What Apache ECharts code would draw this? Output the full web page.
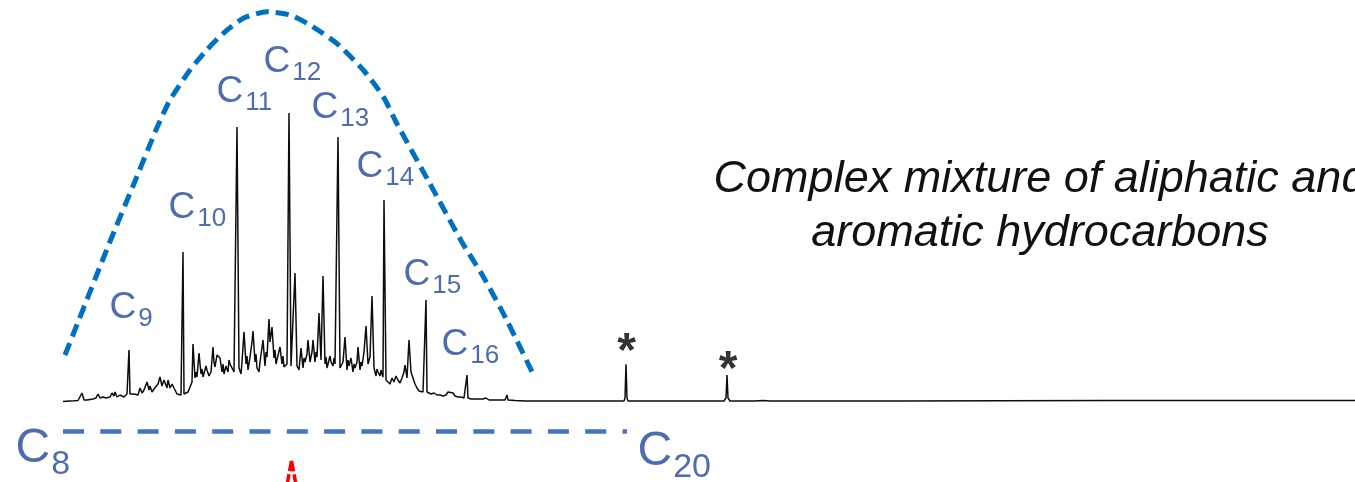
<!DOCTYPE html>
<html>
<head>
<meta charset="utf-8">
<title>GC-FID chromatogram</title>
<script src="https://cdn.jsdelivr.net/npm/echarts@6/dist/echarts.min.js"></script>
<style>
  html, body { margin: 0; padding: 0; background: #fff; }
  #main { width: 1355px; height: 482px; }
</style>
</head>
<body>
<div id="main"></div>
<script>
// detector trace: [scan, response]
const trace = [
  [63, 0.5], [66, 0.8], [70, 1], [74, 1.2], [78, 1.5], [80, 2], [82, 9], [84, 2], [87, 2], [90, 2.5],
  [93, 3], [96, 4], [98, 8], [100, 4], [103, 5], [106, 4], [108, 6], [110, 5], [112, 9], [114, 6],
  [115, 10], [117, 5], [119, 6], [120, 7], [122, 9], [124, 5], [126, 6], [127, 8],
  // C9
  [128, 7], [129, 52], [130, 8],
  [132, 6], [134, 8], [136, 10], [138, 7], [140, 14], [142, 9], [144, 12], [146, 10], [147, 20], [149, 12],
  [150, 16], [152, 10], [154, 13], [156, 11], [158, 18], [160, 25], [162, 16], [164, 22], [165, 20], [167, 14],
  [168, 22], [170, 14], [172, 18], [173, 20], [175, 12], [177, 8], [179, 10], [181, 7],
  // C10
  [182, 8], [183, 150], [184, 8],
  [186, 7], [188, 10], [190, 12], [192, 20], [193, 58], [195, 24], [196, 30], [197, 25], [199, 49], [201, 28],
  [202, 33], [203, 25], [205, 27], [206, 36], [207, 32], [209, 26], [211, 30], [213, 55], [214, 40], [215, 35],
  [217, 47], [219, 49], [220, 44], [222, 30], [223, 38], [224, 28], [226, 36], [228, 30], [229, 42], [230, 38],
  [232, 34], [234, 30],
  // C11
  [235, 32], [237, 275], [239, 34],
  [241, 28], [242, 40], [244, 70], [246, 38], [247, 46], [248, 32], [250, 45], [252, 60], [253, 71], [255, 40],
  [256, 48], [257, 34], [259, 30], [260, 40], [261, 42], [263, 62], [265, 36], [266, 50], [267, 45], [269, 83],
  [270, 60], [272, 75], [274, 44], [275, 52], [276, 38], [278, 40], [280, 55], [282, 38], [283, 46], [284, 35],
  [286, 36],
  // C12
  [287, 38], [289, 289], [291, 36],
  [293, 34], [295, 129], [297, 36], [299, 32], [301, 54], [303, 34], [304, 44], [305, 40], [307, 48], [308, 62],
  [310, 40], [312, 50], [313, 62], [315, 40], [316, 50], [317, 45], [319, 89], [321, 42], [323, 126], [325, 38],
  [326, 45], [327, 34], [329, 36], [330, 46], [331, 40], [333, 36], [334, 44], [335, 38],
  // C13
  [336, 36], [338, 265], [340, 34],
  [342, 32], [343, 40], [345, 65], [347, 32], [348, 42], [349, 36], [351, 44], [353, 30], [354, 38], [355, 34],
  [357, 40], [358, 55], [360, 32], [361, 40], [362, 36], [364, 50], [366, 76], [368, 38], [370, 45], [372, 106],
  [374, 34], [376, 26], [377, 33], [378, 30], [380, 26], [381, 32], [382, 28],
  // C14
  [383, 25], [384, 202], [386, 22],
  [388, 20], [390, 18], [392, 24], [394, 20], [396, 26], [398, 22], [400, 19], [402, 24], [404, 30], [405, 37],
  [407, 24], [409, 62], [411, 30], [413, 29], [415, 18], [417, 14], [419, 11], [421, 10], [423, 10],
  // C15
  [424, 10], [426, 102], [427, 10],
  [429, 9], [431, 8], [434, 9], [437, 7], [440, 7], [443, 6], [446, 7], [448, 10], [450, 8], [453, 9],
  [455, 6], [458, 5], [461, 5], [464, 4],
  // C16
  [465, 4], [467, 27], [468, 4],
  [471, 3], [475, 3], [479, 3], [483, 3], [486, 4], [487, 5], [489, 2], [495, 2], [500, 2], [505, 2],
  [506, 3], [507, 7], [508, 2], [515, 1.5], [525, 1], [535, 1], [543, 1], [544, 3], [545, 1], [560, 1],
  [580, 1], [600, 1], [620, 1],
  // internal standard *
  [624, 1], [625, 4], [626, 37.7], [627, 4], [628, 1],
  [650, 1], [680, 1], [700, 1], [724, 1],
  // surrogate *
  [726, 4], [727, 27], [728, 4], [730, 1],
  [750, 1], [755, 1], [763, 1.5], [770, 1], [900, 1], [1000, 1.2], [1110, 1.5], [1355, 1.5]
];

// n-alkane labels: left edge of the "C", middle of the label
const carbonNumbers = ['9', '10', '11', '12', '13', '14', '15', '16'];
const carbonLabelPos = [
  [110, 91.25], [169, 191.25], [217, 307.25], [264, 337.25],
  [312, 291.25], [357, 232.25], [404, 124.25], [442, 54.25]
];

// boiling range C8 - C20
const rangeNumbers = ['8', '20'];
const rangeLabelPos = [[16, -51.4], [638, -55]];
const rangeBar = [[63, -29.5], [627, -29.5]];

// UCM envelope (hand-drawn dashed curve)
const envelope = [
  [65, 47], [109.3, 158.7], [133, 216], [156.7, 273.7], [170, 302], [190, 332], [206.7, 352],
  [223.3, 368.7], [243.3, 383.7], [266.7, 390.3], [290, 387], [310, 377], [336.7, 358.7],
  [363.3, 332], [383.3, 305.3], [396.7, 278.7], [429, 220], [461.7, 160.3], [483.3, 125.3],
  [506.7, 82], [535, 24]
];

// standards marked with *
const starPos = [[626.7, 49.3], [728, 31.7]];

// red arrow tip cut at the bottom edge
const arrowTip = [[287.5, -80], [291.5, -59], [295.5, -80]];

const labelBlue = '#23479a';
const font = '"Liberation Sans", Arial, sans-serif';

// "C" + subscript carbon number as rich text
function subscriptLabel(cSize, nSize, lineHeight, gap) {
  return {
    show: true,
    position: [0, 0],
    align: 'left',
    verticalAlign: 'middle',
    formatter: p => '{c|C}{n|' + p.name + '}',
    rich: {
      c: { fontSize: cSize, lineHeight: lineHeight, verticalAlign: 'top', color: labelBlue, fontFamily: font },
      n: { fontSize: nSize, lineHeight: lineHeight, verticalAlign: 'bottom', color: labelBlue, fontFamily: font, padding: [0, 0, 0, gap] }
    }
  };
}

const chart = echarts.init(document.getElementById('main'));

const option = {
  animation: false,
  grid: { left: 0, right: 0, top: 0, bottom: 0 },
  xAxis: { type: 'value', min: 0, max: 1355, show: false },
  yAxis: { type: 'value', min: -80, max: 402, show: false },
  graphic: [
    {
      type: 'text',
      x: 1040,
      y: 152,
      style: {
        text: 'Complex mixture of aliphatic and\naromatic hydrocarbons',
        fill: '#111',
        fontFamily: font,
        fontStyle: 'italic',
        fontSize: 45,
        lineHeight: 54,
        align: 'center',
        verticalAlign: 'top'
      }
    }
  ],
  series: [
    {
      name: 'envelope',
      type: 'line',
      data: envelope,
      smooth: 0.2,
      showSymbol: false,
      silent: true,
      lineStyle: { color: '#0070c0', width: 5, type: [13, 7] }
    },
    {
      name: 'range',
      type: 'line',
      data: rangeBar,
      showSymbol: false,
      silent: true,
      lineStyle: { color: '#4472c4', width: 4.5, type: [21, 16.3] }
    },
    {
      name: 'arrow',
      type: 'line',
      data: arrowTip,
      showSymbol: false,
      silent: true,
      lineStyle: { color: '#ff0000', width: 3.5, type: [8, 3, 21, 3] }
    },
    {
      name: 'signal',
      type: 'line',
      data: trace,
      showSymbol: false,
      silent: true,
      lineStyle: { color: '#0d0d0d', width: 1.5 }
    },
    {
      name: 'alkanes',
      type: 'scatter',
      data: carbonLabelPos.map((p, i) => ({ value: p, name: carbonNumbers[i] })),
      symbolSize: 1,
      itemStyle: { color: 'transparent' },
      silent: true,
      label: subscriptLabel(37, 26, 42.5, 2)
    },
    {
      name: 'range labels',
      type: 'scatter',
      data: rangeLabelPos.map((p, i) => ({ value: p, name: rangeNumbers[i] })),
      symbolSize: 1,
      itemStyle: { color: 'transparent' },
      silent: true,
      label: subscriptLabel(48, 34, 56.8, 1)
    },
    {
      name: 'standards',
      type: 'scatter',
      data: starPos,
      symbolSize: 1,
      itemStyle: { color: 'transparent' },
      silent: true,
      label: {
        show: true,
        position: 'inside',
        formatter: '*',
        fontSize: 48,
        fontWeight: 'bold',
        color: '#000',
        fontFamily: font
      }
    }
  ]
};

chart.setOption(option);
</script>
</body>
</html>
